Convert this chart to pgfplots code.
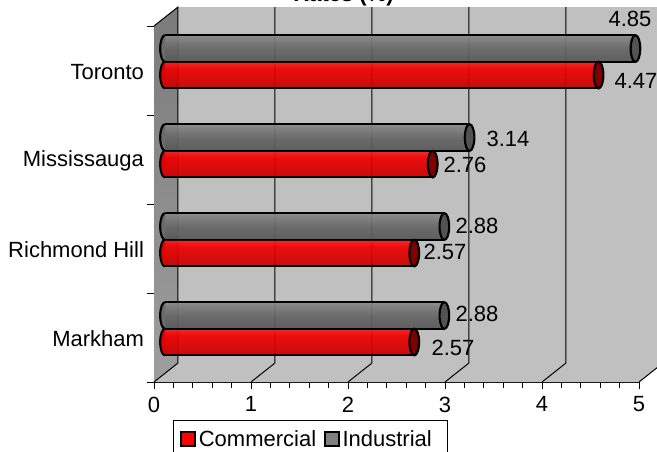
\documentclass[border=0pt]{standalone}
\usepackage{pgfplots}
\pgfplotsset{compat=1.18}
\usepackage{fontspec}
\setmainfont{Liberation Sans}

% Cylinder shadings for the two series
\pgfdeclareverticalshading{graycyl}{100bp}{
  color(0bp)=(black!68); color(25bp)=(black!66); color(50bp)=(black!60);
  color(62bp)=(black!54); color(75bp)=(black!46); color(85bp)=(black!50); color(100bp)=(black!56)}
\pgfdeclareverticalshading{redcyl}{100bp}{
  color(0bp)=(red!72!black); color(25bp)=(red!78!black); color(50bp)=(red!88!black);
  color(62bp)=(red!94!black); color(75bp)=(red!90!white); color(80bp)=(red!86!white); color(90bp)=(red!96!black); color(100bp)=(red!85!black)}

% Rounded near end and dark far end of each cylinder
\pgfdeclareplotmark{capL gray}{
  \draw[line width=1.6pt,black,fill=black!58] (0pt,-10pt) arc (270:90:3.6pt and 10pt);}
\pgfdeclareplotmark{capL red}{
  \draw[line width=1.6pt,black,fill=red!90!black] (0pt,-10pt) arc (270:90:3.6pt and 10pt);}
\pgfdeclareplotmark{capR gray}{
  \draw[line width=1.6pt,black,fill=black!68] (0pt,0pt) ellipse (3.6pt and 10pt);}
\pgfdeclareplotmark{capR red}{
  \draw[line width=1.6pt,black,fill=red!50!black] (0pt,0pt) ellipse (3.6pt and 10pt);}

\pgfplotstableread{
value  pos
4.85   3.747
3.14   2.747
2.88   1.747
2.88   0.747
}\industrial
\pgfplotstableread{
value  pos
4.47   3.449
2.76   2.449
2.57   1.449
2.57   0.449
}\commercial

\definecolor{wall}{HTML}{C0C0C0}

\pgfplotsset{
  cylinder gray/.style={forget plot, xbar, bar width=20pt, bar shift=0pt, draw=none,
     shading=graycyl, fill opacity=0.93, xshift=8.25pt},
  cylinder red/.style={forget plot, xbar, bar width=20pt, bar shift=0pt, draw=none,
     shading=redcyl, fill opacity=0.93, xshift=8.25pt},
  cylinder edge/.style={forget plot, xcomb, black, line width=1.6pt, no markers, xshift=8.25pt},
}

\begin{document}
\begin{tikzpicture}
\path[use as bounding box, clip] (0pt,0pt) rectangle (492.75pt,338.25pt);
\begin{axis}[
  at={(115.5pt,51.75pt)}, anchor=south west,
  scale only axis, width=363.75pt, height=267pt,
  xmin=0, xmax=5, ymin=0, ymax=4,
  clip=false,
  axis lines=left, axis line style={-, line width=0.75pt},
  tick align=outside,
  tick style={black, line width=0.75pt},
  xtick={0,1,2,3,4,5},
  minor x tick num=4,
  major tick length=5.6pt,
  minor tick length=4.5pt,
  ytick={0,1,2,3,4}, yticklabels={},
  extra y ticks={0.5,1.5,2.5,3.5},
  extra y tick labels={Markham,Richmond Hill,Mississauga,Toronto},
  extra y tick style={major tick length=0pt, yticklabel style={xshift=-4pt, yshift=-1pt}},
  tick label style={font=\fontsize{16.5}{19}\selectfont},
  /pgf/number format/assume math mode=true,
  xticklabel style={yshift=-2pt},
  legend style={
    at={(axis cs:0.196,-0.438)}, anchor=north west,
    draw=black, line width=0.75pt, fill=white,
    font=\fontsize{16.5}{19}\selectfont,
    legend columns=2, inner xsep=5pt, inner ysep=5.5pt,
    /tikz/every even column/.append style={column sep=3.75pt},
    /tikz/column 2/.append style={column sep=2.5pt},
    yshift=1pt,
  },
]
  % Floor, side wall and back wall of the chart box
  \fill[wall] (axis cs:0,0) -- (axis cs:5,0) -- (axis cs:5.2474,0.2135) -- (axis cs:5.2474,4.2135)
     -- (axis cs:0.2474,4.2135) -- (axis cs:0.2474,0.2135) -- cycle;
  \shade[bottom color=black!38, top color=black!52]
     (axis cs:0,0) -- (axis cs:0.2474,0.2135) -- (axis cs:0.2474,4.2135) -- (axis cs:0,4) -- cycle;
  \draw[black, line width=0.75pt] (axis cs:0,4) -- (axis cs:0.2474,4.2135) -- (axis cs:0.2474,0.2135) -- (axis cs:0,0);
  % Grid lines across the floor and up the back wall
  \draw[black, line width=0.75pt] (axis cs:1,0) -- (axis cs:1.2474,0.2135) -- (axis cs:1.2474,4.2135);
  \draw[black, line width=0.75pt] (axis cs:2,0) -- (axis cs:2.2474,0.2135) -- (axis cs:2.2474,4.2135);
  \draw[black, line width=0.75pt] (axis cs:3,0) -- (axis cs:3.2474,0.2135) -- (axis cs:3.2474,4.2135);
  \draw[black, line width=0.75pt] (axis cs:4,0) -- (axis cs:4.2474,0.2135) -- (axis cs:4.2474,4.2135);
  \draw[black, line width=0.75pt] (axis cs:5,0) -- (axis cs:5.2474,0.2135) -- (axis cs:5.2474,4.2135);

  % Industrial cylinders, one path each so every bar gets the full shading
  \addplot[forget plot, only marks, mark=capL gray, xshift=8.25pt]
     coordinates {(0,3.747) (0,2.747) (0,1.747) (0,0.747)};
  \addplot[cylinder gray] coordinates {(4.85,3.747)};
  \addplot[cylinder gray] coordinates {(3.14,2.747)};
  \addplot[cylinder gray] coordinates {(2.88,1.747)};
  \addplot[cylinder gray] coordinates {(2.88,0.747)};
  \addplot[cylinder edge, yshift=10pt] table[x=value,y=pos] {\industrial};
  \addplot[cylinder edge, yshift=-10pt] table[x=value,y=pos] {\industrial};
  \addplot[forget plot, only marks, mark=capR gray, xshift=8.25pt] table[x=value,y=pos] {\industrial};

  % Commercial cylinders
  \addplot[forget plot, only marks, mark=capL red, xshift=8.25pt]
     coordinates {(0,3.449) (0,2.449) (0,1.449) (0,0.449)};
  \addplot[cylinder red] coordinates {(4.47,3.449)};
  \addplot[cylinder red] coordinates {(2.76,2.449)};
  \addplot[cylinder red] coordinates {(2.57,1.449)};
  \addplot[cylinder red] coordinates {(2.57,0.449)};
  \addplot[cylinder edge, yshift=10pt] table[x=value,y=pos] {\commercial};
  \addplot[cylinder edge, yshift=-10pt] table[x=value,y=pos] {\commercial};
  \addplot[forget plot, only marks, mark=capR red, xshift=8.25pt] table[x=value,y=pos] {\commercial};

  % Value labels
  \node[font=\fontsize{16.5}{19}\selectfont, inner sep=0pt] at (axis cs:4.907,4.079) {4.85};
  \node[font=\fontsize{16.5}{19}\selectfont, inner sep=0pt] at (axis cs:4.969,3.382) {4.47};
  \node[font=\fontsize{16.5}{19}\selectfont, inner sep=0pt] at (axis cs:3.649,2.730) {3.14};
  \node[font=\fontsize{16.5}{19}\selectfont, inner sep=0pt] at (axis cs:3.206,2.438) {2.76};
  \node[font=\fontsize{16.5}{19}\selectfont, inner sep=0pt] at (axis cs:3.330,1.753) {2.88};
  \node[font=\fontsize{16.5}{19}\selectfont, inner sep=0pt] at (axis cs:3.000,1.461) {2.57};
  \node[font=\fontsize{16.5}{19}\selectfont, inner sep=0pt] at (axis cs:3.330,0.764) {2.88};
  \node[font=\fontsize{16.5}{19}\selectfont, inner sep=0pt] at (axis cs:3.082,0.382) {2.57};

  % Chart title, cut by the top edge of the page
  \node[font=\bfseries\fontsize{16.5}{19}\selectfont, anchor=base east, inner sep=0pt]
     at (axis cs:2.474,4.28) {Rates (\%)};

  \addlegendimage{legend image code/.code={
     \draw[black, line width=1.5pt, fill=red] (0pt,-5pt) rectangle (10.5pt,5pt);}}
  \addlegendentry{Commercial}
  \addlegendimage{legend image code/.code={
     \draw[black, line width=1.5pt, fill=black!50] (0pt,-5pt) rectangle (10.5pt,5pt);}}
  \addlegendentry{Industrial\kern4.5pt}
\end{axis}
\end{tikzpicture}
\end{document}
